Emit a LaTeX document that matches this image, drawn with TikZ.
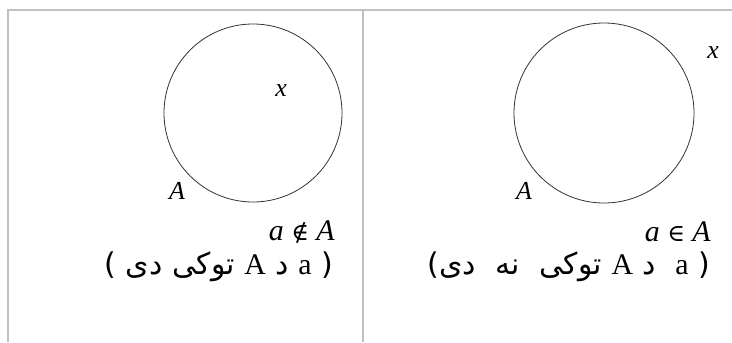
\documentclass[tikz,border=0pt]{standalone}
\usepackage{fontspec}
\setmainfont{Liberation Serif}
\newfontfamily\arabicfont[Script=Arabic]{DejaVu Sans}
\newfontfamily\latinfont{Liberation Serif}
\newfontfamily\symfont{DejaVu Serif}
\TeXXeTstate=1
\usetikzlibrary{positioning}
\definecolor{gridgray}{RGB}{192,192,192}

\begin{document}
\begin{tikzpicture}[
    x=1bp,
    y=-1bp,
    frame/.style={
        draw=gridgray,
        line width=2bp
    },
    setline/.style={
        draw=black!80,
        line width=0.8bp
    },
    lbl/.style={
        inner sep=0pt,
        font=\fontsize{26}{30}\selectfont\itshape
    },
    rel/.style={
        inner sep=0pt,
        anchor=east,
        font=\fontsize{30}{34}\selectfont
    },
    says/.style={
        inner sep=0pt,
        anchor=east,
        font=\fontsize{30}{34}\selectfont
    }
]

\useasboundingbox (0,0) rectangle (732,342);

% table lines
\coordinate (tl) at (7,10);
\coordinate (tr) at (732,10);
\coordinate (bl) at (8,342);
\coordinate (mt) at (363,10);
\coordinate (mb) at (363,342);
\draw[frame] (tl) -- (tr);
\draw[frame] (8,10) -- (bl);
\draw[frame] (mt) -- (mb);

% left cell
\draw[setline] (253,113) circle (89);
\node[lbl] (xout) at (281,91) {x};
\node[lbl] (setl) at (177,191) {A};
\node[rel] (notin) at (335,232) {\textit{a} {\symfont\fontsize{24}{28}\selectfont ∉} \textit{A}};
\node[says] (textl) at (333,267) {\arabicfont\beginR( {\latinfont a} د {\latinfont A} توکی دی )\endR};

% right cell
\draw[setline] (604,113) circle (90);
\node[lbl] (xin) at (713,53) {x};
\node[lbl] (setr) at (524,191) {A};
\node[rel] (isin) at (711,232) {\textit{a} {\symfont\fontsize{24}{28}\selectfont ∈} \textit{A}};
\node[says] (textr) at (710,267) {\arabicfont\beginR( {\latinfont a}\,\, د {\latinfont A} توکی\,\, نه\,\, دی)\endR};

\end{tikzpicture}
\end{document}
